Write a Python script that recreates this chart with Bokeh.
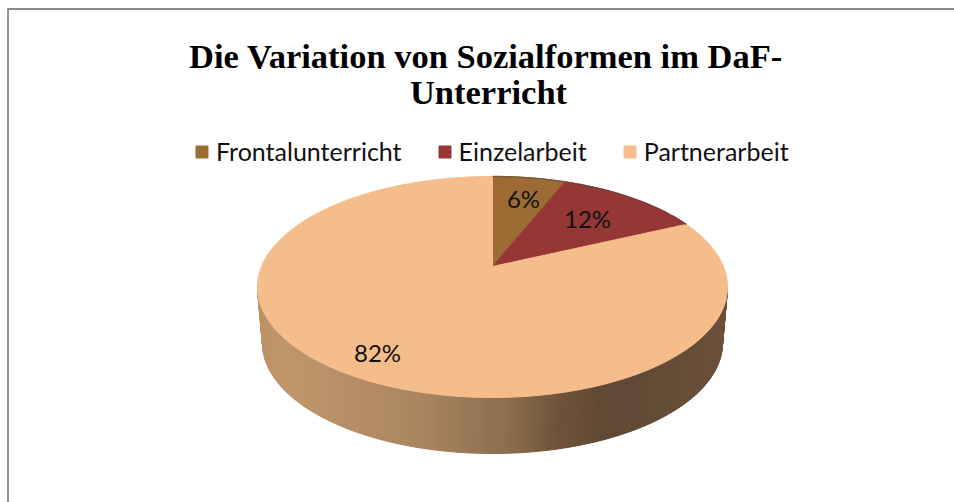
import numpy as np
from bokeh.plotting import figure
from bokeh.models import Legend, LegendItem, Range1d
from bokeh.core.properties import value
from bokeh.embed import file_html
from bokeh.resources import INLINE

categories = ["Frontalunterricht", "Einzelarbeit", "Partnerarbeit"]
shares = [6, 12, 82]
labels = ["6%", "12%", "82%"]
title_lines = ["Die Variation von Sozialformen im DaF-", "Unterricht"]
colors = ["#9d6c35", "#953735", "#f6bd8c"]

# styling / layout
W, H = 954, 502
CX, TOP, BOT, APEX = 492, 176, 397, 266
RX = 235
DEPTH = 56
RX_BOTTOM = 230
label_x = [523, 587, 377]
label_y = [198, 218, 352]
side_x = [250, 290, 390, 430, 510, 560, 610, 720]
side_rgb = [(190, 145, 100), (192, 150, 108), (176, 138, 98), (166, 132, 95),
            (140, 109, 79), (111, 82, 57), (95, 72, 52), (106, 80, 58)]

CY = (TOP + BOT) / 2
RY = (BOT - TOP) / 2
up, down = APEX - TOP, BOT - APEX
c = (down - up) / (BOT - TOP)
d = up * (1 + c)
e = RX * np.sqrt(1 - c * c)


def project(frac):
    a = 2 * np.pi * np.asarray(frac)
    u, v = np.sin(a), np.cos(a)
    den = 1 + c * v
    return CX + e * u / den, APEX - d * v / den


p = figure(width=W, height=H, output_backend="svg", toolbar_location=None,
           x_axis_type=None, y_axis_type=None, min_border=0,
           x_range=Range1d(0, W), y_range=Range1d(H, 0),
           outline_line_color=None, background_fill_color="white")
p.grid.visible = False

# frame: only the top and left rules are visible
p.line([7, W], [8.5, 8.5], line_color="#8a8a8a", line_width=1.8)
p.line([7.5, 7.5], [8, H], line_color="#8a8a8a", line_width=1.8)

# side of the pie
t = np.radians(np.linspace(180, 360, 181))
xs, ys, fills = [], [], []
for t0, t1 in zip(t[:-1], t[1:]):
    c0, c1, s0, s1 = np.cos(t0), np.cos(t1), np.sin(t0), np.sin(t1)
    xs.append([CX + RX * c0, CX + RX * c1, CX + RX_BOTTOM * c1, CX + RX_BOTTOM * c0])
    ys.append([CY - RY * s0, CY - RY * s1, CY + DEPTH - RY * s1, CY + DEPTH - RY * s0])
    xm = CX + RX * (c0 + c1) / 2
    rgb = [int(np.interp(xm, side_x, [q[i] for q in side_rgb])) for i in range(3)]
    fills.append("#%02x%02x%02x" % tuple(rgb))
p.patches(xs, ys, fill_color=fills, line_color=fills, line_width=1)

# top of the pie
edges = np.concatenate([[0], np.cumsum(shares)]) / sum(shares)
rends = []
for i, col in enumerate(colors):
    f = np.linspace(edges[i], edges[i + 1], 200)
    x, y = project(f)
    x = np.concatenate([[CX], x])
    y = np.concatenate([[APEX], y])
    rends.append(p.patch(x, y, fill_color=col, line_color=col, line_width=1))

# darker rim on the two small slices
for i, col in [(0, "#7d5a34"), (1, "#7a3f38")]:
    x, y = project(np.linspace(edges[i], edges[i + 1], 60))
    p.line(x, y, line_color=col, line_width=1.5)

p.text(label_x, label_y, text=labels, text_align="center", text_baseline="middle",
       text_font=value("Lato"), text_font_size="24px", text_color="#111111")

p.text([485.5, 488], [55, 91], text=title_lines, text_align="center", text_baseline="middle",
       text_font=value("Liberation Serif"), text_font_style="bold",
       text_font_size="34.5px", text_color="black")

legend = Legend(items=[LegendItem(label=n, renderers=[r]) for n, r in zip(categories, rends)],
                orientation="horizontal", location=(194, 336), margin=0, padding=0,
                spacing=35, label_standoff=7, glyph_width=15, glyph_height=15,
                border_line_color=None, background_fill_alpha=0,
                label_text_font="Lato", label_text_font_size="25px", label_text_color="#111111")
p.add_layout(legend, "center")

open("out.html", "w").write(file_html(p, INLINE))
